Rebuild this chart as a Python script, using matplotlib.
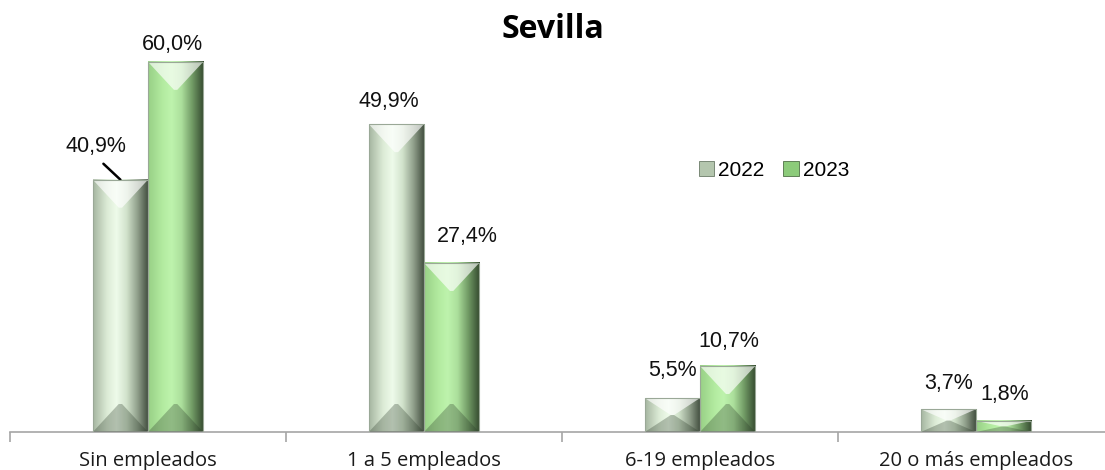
import numpy as np
import matplotlib
matplotlib.use('Agg')
import matplotlib.pyplot as plt
from matplotlib.colors import LinearSegmentedColormap
from matplotlib.patches import Polygon, Patch

# datos
categorias = ['Sin empleados', '1 a 5 empleados', '6-19 empleados', '20 o más empleados']
series = ['2022', '2023']
valores_2022 = [40.9, 49.9, 5.5, 3.7]
valores_2023 = [60.0, 27.4, 10.7, 1.8]
etiquetas_2022 = ['40,9%', '49,9%', '5,5%', '3,7%']
etiquetas_2023 = ['60,0%', '27,4%', '10,7%', '1,8%']

# desplazamiento de las etiquetas (pixeles) respecto al centro superior de la barra
offs_2022 = [(-24, 33), (-8, 23), (0, 28), (0, 26)]
offs_2023 = [(-3, 17), (16, 26), (1, 24), (1, 26)]

grad_2022 = LinearSegmentedColormap.from_list('g22', [
    (0.0, '#a6b6a1'), (0.25, '#dcebd6'), (0.42, '#eefbea'),
    (0.6, '#d2e3cc'), (0.8, '#909f8b'), (1.0, '#3e4a3b')])
grad_2023 = LinearSegmentedColormap.from_list('g23', [
    (0.0, '#98d086'), (0.25, '#b2ea9f'), (0.42, '#bef3ad'),
    (0.6, '#acdf9c'), (0.8, '#6f9863'), (1.0, '#34492f')])
color_leg = ['#b4c6ae', '#8ccb7a']

W, H = 1105, 470
fig = plt.figure(figsize=(W / 100, H / 100), dpi=100)
ax = fig.add_axes([10 / W, 38 / H, 1104 / W, 401 / H])

x = np.arange(len(categorias))
w = 0.2
px_y = 401 / 65.0  # pixeles por punto porcentual


def barra_bisel(x0, h, cmap):
    x1 = x0 + w
    g = np.linspace(0, 1, 200).reshape(1, -1)
    ax.imshow(g, extent=[x0, x1, 0, h], aspect='auto', cmap=cmap,
              origin='lower', zorder=2, interpolation='bilinear')
    ix = w * 0.47
    iy = min(28 / px_y, h / 2)
    top = Polygon([(x0, h), (x1, h), (x1 - ix, h - iy), (x0 + ix, h - iy)],
                  closed=True, facecolor='white', alpha=0.65, lw=0, zorder=3)
    bot = Polygon([(x0, 0), (x1, 0), (x1 - ix, iy), (x0 + ix, iy)],
                  closed=True, facecolor='#2a3a28', alpha=0.3, lw=0, zorder=3)
    ax.add_patch(top)
    ax.add_patch(bot)
    ax.bar(x0, h, w, align='edge', facecolor='none', edgecolor='#9aa897',
           lw=0.8, zorder=4)


for i in range(len(categorias)):
    barra_bisel(x[i] - w, valores_2022[i], grad_2022)
    barra_bisel(x[i], valores_2023[i], grad_2023)

lab_font = dict(fontsize=15.5, family='Liberation Sans', color='#111111')
for i in range(len(categorias)):
    dx, dy = offs_2022[i]
    if i == 0:
        ax.annotate(etiquetas_2022[i], xy=(x[i] - w / 2, valores_2022[i]),
                    xytext=(dx, dy), textcoords='offset pixels',
                    ha='center', va='center', **lab_font,
                    arrowprops=dict(arrowstyle='-', color='black', lw=1.8,
                                    shrinkA=4, shrinkB=0, relpos=(0.5, 0)))
    else:
        ax.annotate(etiquetas_2022[i], xy=(x[i] - w / 2, valores_2022[i]),
                    xytext=(dx, dy), textcoords='offset pixels',
                    ha='center', va='center', **lab_font)
    dx, dy = offs_2023[i]
    ax.annotate(etiquetas_2023[i], xy=(x[i] + w / 2, valores_2023[i]),
                xytext=(dx, dy), textcoords='offset pixels',
                ha='center', va='center', **lab_font)

ax.set_xlim(-0.5, 3.5)
ax.set_ylim(0, 65)
for s in ['top', 'right', 'left']:
    ax.spines[s].set_visible(False)
ax.spines['bottom'].set_color('#a6a6a6')
ax.spines['bottom'].set_linewidth(1.2)
ax.set_yticks([])
ax.set_xticks(x)
ax.set_xticklabels(categorias, fontsize=14.5, family='Open Sans', color='#1a1a1a')
ax.tick_params(axis='x', which='major', length=0, pad=14)
ax.set_xticks(np.arange(-0.5, 4.0, 1.0), minor=True)
ax.tick_params(axis='x', which='minor', length=7, color='#a6a6a6', width=1.2)

handles = [Patch(facecolor=color_leg[0], edgecolor='#6b7a68', lw=0.6),
           Patch(facecolor=color_leg[1], edgecolor='#4f6f46', lw=0.6)]
fig.legend(handles, series, loc='center', bbox_to_anchor=(774 / W, 1 - 170 / H),
           ncol=2, frameon=False, prop={'family': 'Liberation Sans', 'size': 15},
           handlelength=0.75, handleheight=0.75, handletextpad=0.2,
           columnspacing=0.9, borderpad=0)

fig.text(0.5, 1 - 38 / H, 'Sevilla', ha='center', va='baseline',
         fontsize=23, fontweight='bold', family='Open Sans')

fig.savefig('out.png', dpi=100)
